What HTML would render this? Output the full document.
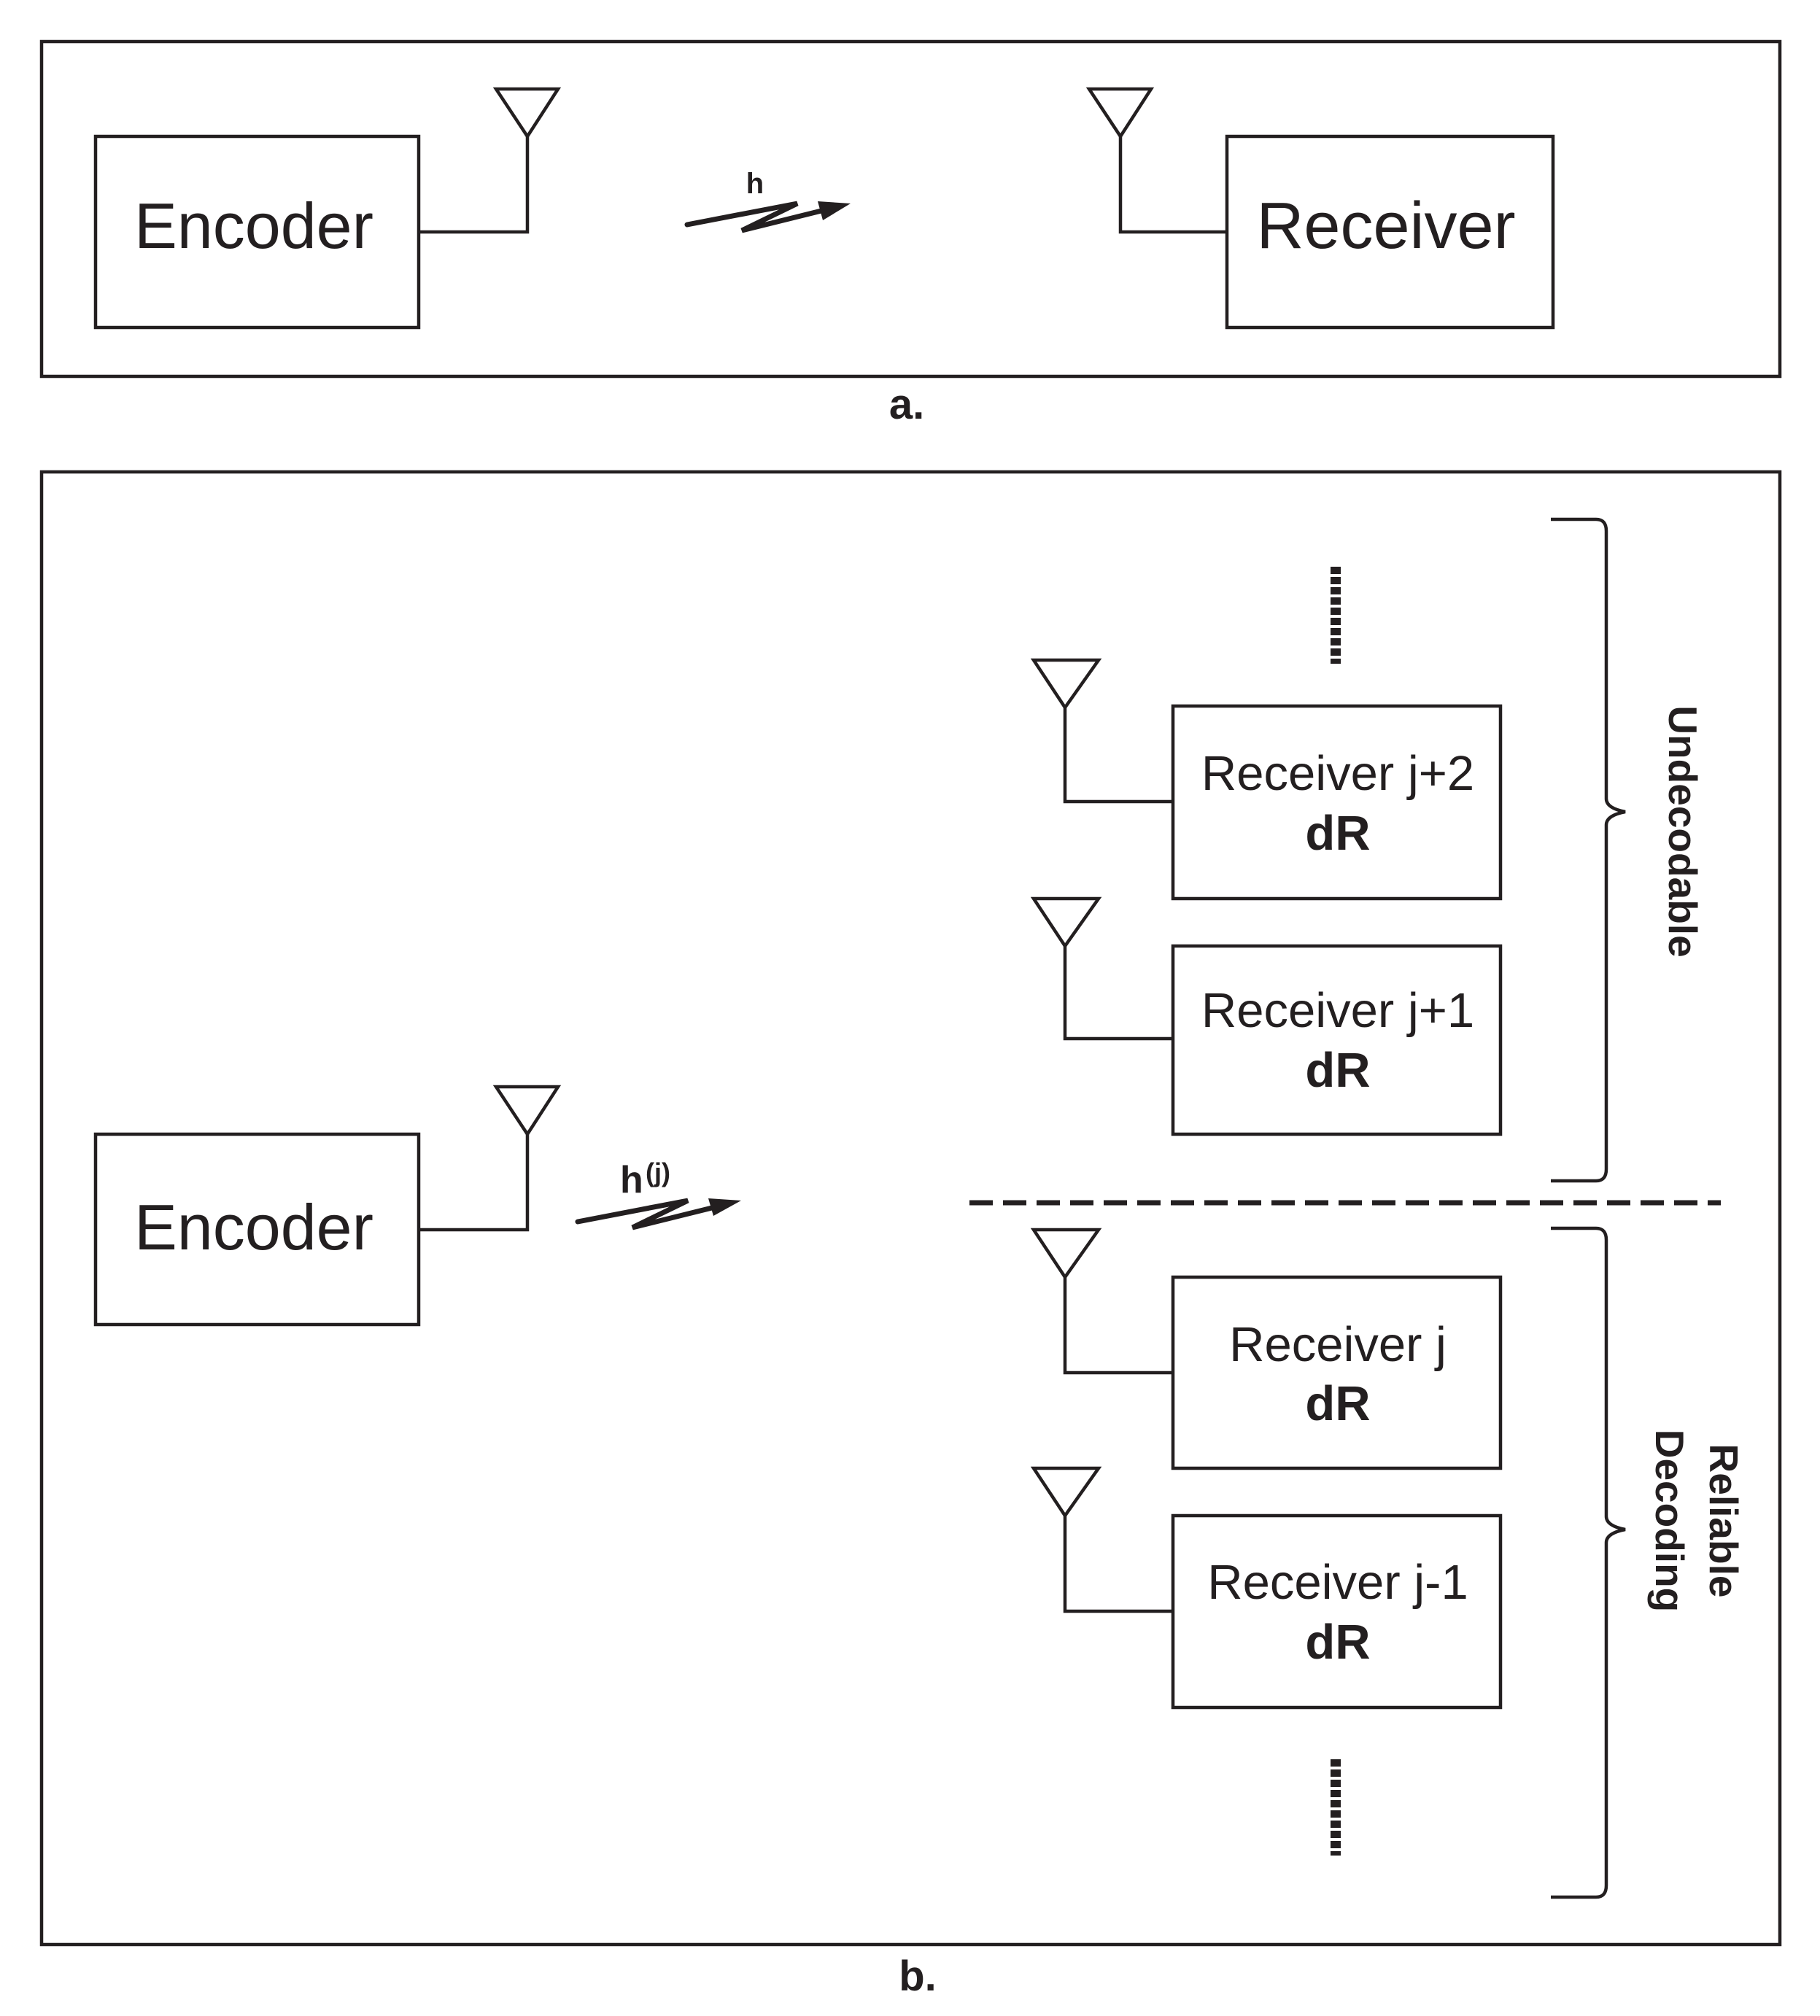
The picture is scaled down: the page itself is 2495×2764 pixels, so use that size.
<!DOCTYPE html>
<html><head><meta charset="utf-8"><style>
html,body{margin:0;padding:0;background:#fff;}
svg{display:block}
text{font-family:"Liberation Sans",sans-serif;fill:#231f20}
</style></head><body>
<svg width="2495" height="2764" viewBox="0 0 2495 2764" xmlns="http://www.w3.org/2000/svg">
<g fill="none" stroke="#231f20" stroke-width="4.5">
<rect x="57" y="57" width="2383" height="459"/>
<rect x="131" y="187" width="443" height="262"/>
<polygon points="680,122 765,122 723,187"/>
<polyline points="574,318 723,318 723,187"/>
<rect x="1682" y="187" width="447" height="262"/>
<polygon points="1493,122 1578,122 1536,187"/>
<polyline points="1682,318 1536,318 1536,187"/>
<rect x="57" y="647" width="2383" height="2019"/>
<rect x="131" y="1555" width="443" height="261"/>
<polygon points="680,1490 765,1490 723,1555"/>
<polyline points="574,1686 723,1686 723,1555"/>
<rect x="1608" y="968" width="449" height="264"/>
<rect x="1608" y="1297" width="449" height="258"/>
<rect x="1608" y="1751" width="449" height="262"/>
<rect x="1608" y="2078" width="449" height="263"/>
<polygon points="1417,905 1506,905 1460,970"/>
<polyline points="1608,1099 1460,1099 1460,970"/>
<polygon points="1417,1232 1506,1232 1460,1297"/>
<polyline points="1608,1424 1460,1424 1460,1297"/>
<polygon points="1417,1686 1506,1686 1460,1751"/>
<polyline points="1608,1882 1460,1882 1460,1751"/>
<polygon points="1417,2013 1506,2013 1460,2078"/>
<polyline points="1608,2209 1460,2209 1460,2078"/>
<line x1="1329" y1="1649" x2="2359" y2="1649" stroke-width="7" stroke-dasharray="32,14"/>
<line x1="1831" y1="777" x2="1831" y2="910" stroke-width="14" stroke-dasharray="10,4"/>
<line x1="1831" y1="2412" x2="1831" y2="2544" stroke-width="14" stroke-dasharray="10,4"/>
<path d="M2126,712 H2188 Q2202,712 2202,728 V1095 Q2202,1108 2228,1113 Q2202,1118 2202,1131 V1603 Q2202,1619 2188,1619 H2126"/>
<path d="M2126,1684 H2188 Q2202,1684 2202,1700 V2079 Q2202,2092 2228,2097 Q2202,2102 2202,2115 V2585 Q2202,2601 2188,2601 H2126"/>
</g>
<g fill="none" stroke="#231f20" stroke-width="7" stroke-linecap="round" stroke-linejoin="miter">
<polyline points="942,308 1093,279 1017,316 1130,288"/>
<polyline points="792,1675 943,1646 867,1683 980,1655"/>
</g>
<polygon points="1121,276 1166,279 1128,302" fill="#231f20"/>
<polygon points="971,1643 1016,1646 978,1667" fill="#231f20"/>
<text x="1035" y="265" font-size="40" font-weight="bold" text-anchor="middle">h</text>
<text x="850" y="1635" font-size="52" font-weight="bold">h</text>
<text x="885" y="1620" font-size="36" font-weight="bold">(j)</text>
<text x="348" y="340" font-size="88" text-anchor="middle">Encoder</text>
<text x="1900" y="340" font-size="90" text-anchor="middle">Receiver</text>
<text x="348" y="1713" font-size="88" text-anchor="middle">Encoder</text>
<text x="1243" y="574" font-size="58" font-weight="bold" text-anchor="middle">a.</text>
<text x="1258" y="2729" font-size="58" font-weight="bold" text-anchor="middle">b.</text>
<g font-size="67" text-anchor="middle">
<text x="1834" y="1083">Receiver j+2</text>
<text x="1834" y="1165" font-weight="bold">dR</text>
<text x="1834" y="1408">Receiver j+1</text>
<text x="1834" y="1490" font-weight="bold">dR</text>
<text x="1834" y="1866">Receiver j</text>
<text x="1834" y="1947" font-weight="bold">dR</text>
<text x="1834" y="2192">Receiver j-1</text>
<text x="1834" y="2274" font-weight="bold">dR</text>
</g>
<g font-size="55" font-weight="bold" text-anchor="middle">
<text transform="translate(2288,1140) rotate(90)">Undecodable</text>
<text transform="translate(2344,2085) rotate(90)">Reliable</text>
<text transform="translate(2270,2085) rotate(90)">Decoding</text>
</g>
</svg>
</body></html>
